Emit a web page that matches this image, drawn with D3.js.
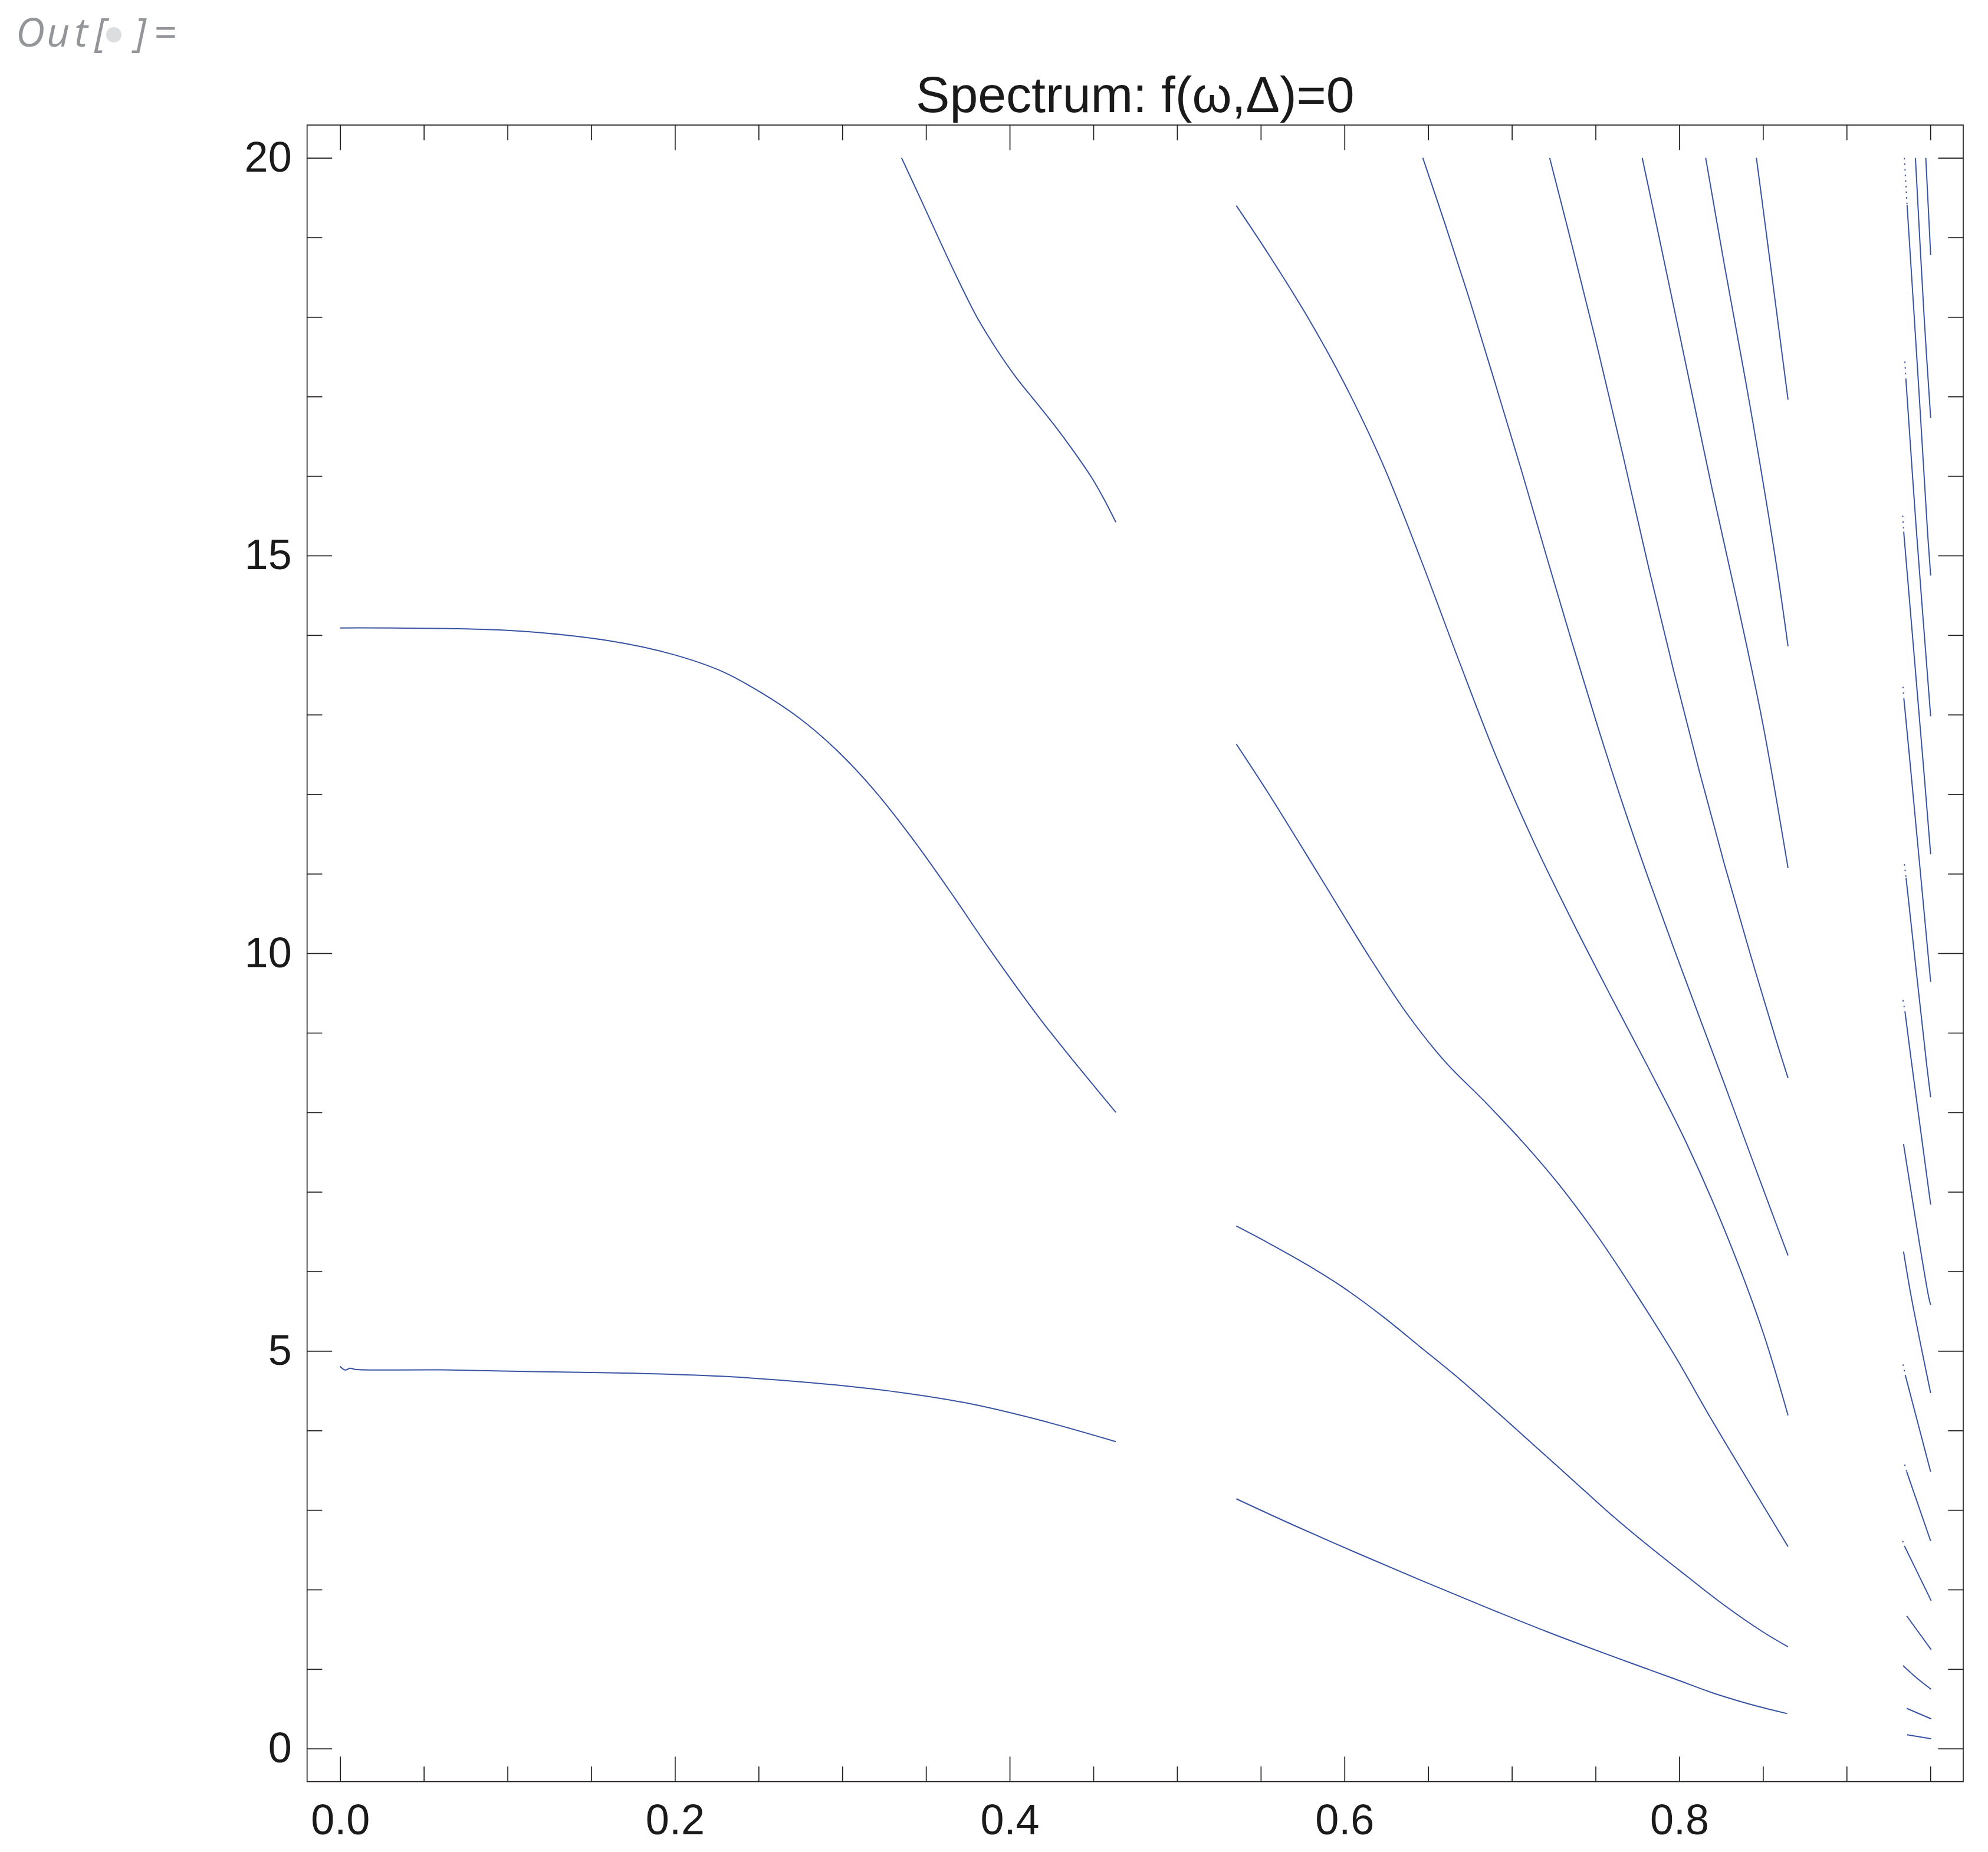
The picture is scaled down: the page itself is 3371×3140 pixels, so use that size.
<!DOCTYPE html>
<html>
<head>
<meta charset="utf-8">
<script src="https://cdn.jsdelivr.net/npm/d3@7"></script>
<style>
  html, body { margin: 0; padding: 0; background: #ffffff; }
  svg { display: block; }
</style>
</head>
<body>
<svg id="chart" width="3371" height="3140"></svg>
<script>
// ---------------- data ----------------
const chartTitle = "Spectrum: f(\u03c9,\u0394)=0";
const xMajorTicks = [0, 0.2, 0.4, 0.6, 0.8];
const xMinorTicks = [0.05, 0.1, 0.15, 0.25, 0.3, 0.35, 0.45, 0.5, 0.55, 0.65, 0.7, 0.75, 0.85, 0.9, 0.95];
const yMajorTicks = [0, 5, 10, 15, 20];
const yMinorTicks = [1, 2, 3, 4, 6, 7, 8, 9, 11, 12, 13, 14, 16, 17, 18, 19];

// left band (omega in [0, 0.4634])
const leftLow = [[0,4.805],[0.003,4.76],[0.006,4.783],[0.009,4.768],[0.06,4.762],[0.115,4.74],[0.175,4.72],[0.229,4.68],[0.282,4.6],[0.327,4.50],[0.373,4.35],[0.418,4.13],[0.4634,3.86]];
const leftMid = [[0,14.09],[0.0998,14.06],[0.1604,13.93],[0.1983,13.76],[0.2286,13.54],[0.2513,13.28],[0.2741,12.96],[0.2968,12.55],[0.3195,12.04],[0.3423,11.43],[0.3650,10.76],[0.3877,10.06],[0.4180,9.18],[0.4407,8.58],[0.4634,8.00]];
const leftTop = [[0.3354,20],[0.3469,19.48],[0.3582,18.96],[0.3696,18.45],[0.3809,17.98],[0.3923,17.59],[0.4035,17.25],[0.4149,16.95],[0.4263,16.65],[0.4376,16.33],[0.4490,15.98],[0.4566,15.70],[0.4634,15.42]];

// middle band (omega in [0.5354, 0.865])
const mid1 = [[0.5354,3.14],[0.5695,2.81],[0.6074,2.46],[0.6453,2.12],[0.6831,1.79],[0.7210,1.47],[0.7589,1.17],[0.7968,0.88],[0.8200,0.70],[0.8361,0.595],[0.8500,0.515],[0.8645,0.44]];
const mid2 = [[0.5354,6.57],[0.5543,6.36],[0.5771,6.09],[0.5998,5.79],[0.6225,5.44],[0.6453,5.05],[0.6680,4.66],[0.6907,4.24],[0.7135,3.81],[0.7362,3.38],[0.7589,2.95],[0.7816,2.55],[0.8044,2.17],[0.8271,1.80],[0.8498,1.47],[0.8650,1.28]];
const mid3 = [[0.5354,12.63],[0.5543,12.02],[0.5846,10.99],[0.6150,9.95],[0.6377,9.23],[0.6604,8.63],[0.6831,8.15],[0.7059,7.64],[0.7286,7.08],[0.7513,6.44],[0.7741,5.72],[0.7968,4.96],[0.8195,4.13],[0.8423,3.33],[0.8650,2.54]];
const mid4 = [[0.5354,19.40],[0.5543,18.80],[0.5771,18.03],[0.5998,17.17],[0.6225,16.17],[0.6453,14.97],[0.6680,13.70],[0.6907,12.47],[0.7135,11.38],[0.7362,10.40],[0.7589,9.47],[0.7816,8.56],[0.8044,7.61],[0.8271,6.52],[0.8498,5.25],[0.8650,4.19]];
const mid5 = [[0.6468,20],[0.6604,19.15],[0.6756,18.16],[0.6907,17.12],[0.7059,16.06],[0.7210,14.97],[0.7362,13.89],[0.7513,12.85],[0.7665,11.86],[0.7816,10.94],[0.7968,10.06],[0.8120,9.20],[0.8271,8.35],[0.8423,7.48],[0.8536,6.84],[0.8650,6.20]];
const mid6 = [[0.7226,20],[0.7362,18.88],[0.7513,17.60],[0.7665,16.25],[0.7816,14.86],[0.7968,13.54],[0.8120,12.29],[0.8271,11.11],[0.8423,10.0],[0.8574,8.94],[0.8650,8.43]];
const mid7 = [[0.7779,20],[0.7892,18.88],[0.8044,17.36],[0.8195,15.85],[0.8347,14.41],[0.8498,12.90],[0.8650,11.07]];
const mid8 = [[0.8158,20],[0.8271,18.64],[0.8423,16.88],[0.8574,14.97],[0.8650,13.86]];
const mid9 = [[0.8461,20],[0.8536,18.80],[0.8650,16.96]];

// right band (omega in [0.9335, 0.9505]) – solid parts
const right1 = [[0.9473,20],[0.9502,18.78]];
const right2 = [[0.9411,20],[0.9463,18.0],[0.9502,16.73]];
const right3 = [[0.9361,19.41],[0.9434,17.0],[0.9483,15.31],[0.9502,14.75]];
const right4 = [[0.9354,17.22],[0.9417,15.31],[0.9502,12.98]];
const right5 = [[0.9341,15.3],[0.9459,12.35],[0.9502,11.245]];
const right6 = [[0.9342,13.2],[0.9381,12.35],[0.9502,9.64]];
const right7 = [[0.9355,10.95],[0.9476,8.64],[0.9502,8.19]];
const right8 = [[0.9349,9.26],[0.9387,8.64],[0.9502,6.84]];
const right9 = [[0.9340,7.6],[0.9491,5.67],[0.9502,5.58]];
const right10 = [[0.9340,6.25],[0.9387,5.67],[0.9502,4.47]];
const right11 = [[0.9350,4.70],[0.9502,3.48]];
const right12 = [[0.9359,3.48],[0.9502,2.61]];
const right13 = [[0.9345,2.55],[0.9505,1.86]];
const right14 = [[0.9359,1.668],[0.9505,1.244]];
const right15 = [[0.9337,1.043],[0.942,0.885],[0.9505,0.745]];
const right16 = [[0.9359,0.506],[0.9505,0.374]];
const right17 = [[0.9361,0.174],[0.9505,0.124]];
// sparse (dotted) starts of some right-band segments
const rightLead1 = [[0.9345,20],[0.9361,19.41]];
const rightLead2 = [[0.9348,17.44],[0.9354,17.22]];
const rightLead3 = [[0.9335,15.5],[0.9341,15.3]];
const rightLead4 = [[0.9337,13.35],[0.9342,13.2]];
const rightLead5 = [[0.9345,11.12],[0.9355,10.95]];
const rightLead6 = [[0.9337,9.41],[0.9349,9.26]];
const rightLead7 = [[0.9337,4.83],[0.9350,4.70]];
const rightLead8 = [[0.9347,3.57],[0.9359,3.48]];
const rightLead9 = [[0.9335,2.61],[0.9345,2.55]];

const solidCurves = [leftLow, leftMid, leftTop, mid1, mid2, mid3, mid4, mid5, mid6, mid7, mid8, mid9,
  right1, right2, right3, right4, right5, right6, right7, right8, right9, right10, right11, right12,
  right13, right14, right15, right16, right17];
const dottedCurves = [rightLead1, rightLead2, rightLead3, rightLead4, rightLead5, rightLead6, rightLead7, rightLead8, rightLead9];

// ---------------- layout ----------------
const svg = d3.select("#chart");
const frame = { left: 520.7, right: 3329, top: 212, bottom: 3020.7 };
const axisColor = "#231f20";
const lineColor = "#3953a4";

const x = d3.scaleLinear().domain([-0.01973, 0.96966]).range([frame.left, frame.right]);
const y = d3.scaleLinear().domain([-0.4153, 20.413]).range([frame.bottom, frame.top]);

svg.append("rect").attr("x", 0).attr("y", 0).attr("width", 3371).attr("height", 3140).attr("fill", "#fff");

// "Out[ ]=" label
const outG = svg.append("g").attr("fill", "#939598")
  .style("font-family", "'Open Sans', 'Noto Sans', sans-serif").style("font-style", "italic")
  .style("font-size", "68px");
[["O", 51.5], ["u", 98.5], ["t", 137.5], ["[", 170], ["]", 238]].forEach(([c, cx]) => {
  outG.append("text").attr("x", cx).attr("y", 79).attr("text-anchor", "middle").text(c);
});
outG.append("text").attr("x", 281).attr("y", 79).attr("text-anchor", "middle").style("font-style", "normal").text("=");
svg.append("circle").attr("cx", 193).attr("cy", 59).attr("r", 13).attr("fill", "#dcdddf");

// title
svg.append("text")
  .attr("x", (frame.left + frame.right) / 2).attr("y", 190)
  .attr("text-anchor", "middle")
  .style("font-family", "'Liberation Sans', Arial, sans-serif")
  .style("font-size", "86px").attr("fill", "#1a1a1a")
  .text(chartTitle);

// clip
svg.append("defs").append("clipPath").attr("id", "plotClip")
  .append("rect").attr("x", frame.left).attr("y", frame.top)
  .attr("width", frame.right - frame.left).attr("height", frame.bottom - frame.top);

const line = d3.line().x(d => x(d[0])).y(d => y(d[1])).curve(d3.curveCatmullRom.alpha(0.5));

const plot = svg.append("g").attr("clip-path", "url(#plotClip)");
plot.selectAll("path.solid").data(solidCurves).join("path")
  .attr("class", "solid").attr("d", line)
  .attr("fill", "none").attr("stroke", lineColor).attr("stroke-width", 2);
plot.selectAll("path.dotted").data(dottedCurves).join("path")
  .attr("class", "dotted").attr("d", line)
  .attr("fill", "none").attr("stroke", lineColor).attr("stroke-width", 2)
  .attr("stroke-dasharray", "2.5,7");

// axes (ticks drawn inward on all four sides)
const tickFont = (g) => g.selectAll("text")
  .style("font-family", "'Liberation Sans', Arial, sans-serif")
  .style("font-size", "72px").attr("fill", "#1a1a1a");
const styleAxis = (g) => {
  g.select(".domain").remove();
  g.selectAll("line").attr("stroke", axisColor).attr("stroke-width", 1.7);
};
const MAJ = 42.5, MIN = 25.7;

svg.append("g").attr("transform", `translate(0,${frame.bottom})`)
  .call(d3.axisBottom(x).tickValues(xMajorTicks).tickSize(-MAJ).tickPadding(38).tickFormat(d3.format(".1f")))
  .call(styleAxis).call(tickFont);
svg.append("g").attr("transform", `translate(0,${frame.bottom})`)
  .call(d3.axisBottom(x).tickValues(xMinorTicks).tickSize(-MIN).tickFormat(""))
  .call(styleAxis);
svg.append("g").attr("transform", `translate(0,${frame.top})`)
  .call(d3.axisTop(x).tickValues(xMajorTicks).tickSize(-MAJ).tickFormat(""))
  .call(styleAxis);
svg.append("g").attr("transform", `translate(0,${frame.top})`)
  .call(d3.axisTop(x).tickValues(xMinorTicks).tickSize(-MIN).tickFormat(""))
  .call(styleAxis);

svg.append("g").attr("transform", `translate(${frame.left},0)`)
  .call(d3.axisLeft(y).tickValues(yMajorTicks).tickSize(-MAJ).tickPadding(26).tickFormat(d3.format("d")))
  .call(styleAxis).call(tickFont);
svg.append("g").attr("transform", `translate(${frame.left},0)`)
  .call(d3.axisLeft(y).tickValues(yMinorTicks).tickSize(-MIN).tickFormat(""))
  .call(styleAxis);
svg.append("g").attr("transform", `translate(${frame.right},0)`)
  .call(d3.axisRight(y).tickValues(yMajorTicks).tickSize(-MAJ).tickFormat(""))
  .call(styleAxis);
svg.append("g").attr("transform", `translate(${frame.right},0)`)
  .call(d3.axisRight(y).tickValues(yMinorTicks).tickSize(-MIN).tickFormat(""))
  .call(styleAxis);

// frame
svg.append("rect")
  .attr("x", frame.left).attr("y", frame.top)
  .attr("width", frame.right - frame.left).attr("height", frame.bottom - frame.top)
  .attr("fill", "none").attr("stroke", axisColor).attr("stroke-width", 1.7);
</script>
</body>
</html>
